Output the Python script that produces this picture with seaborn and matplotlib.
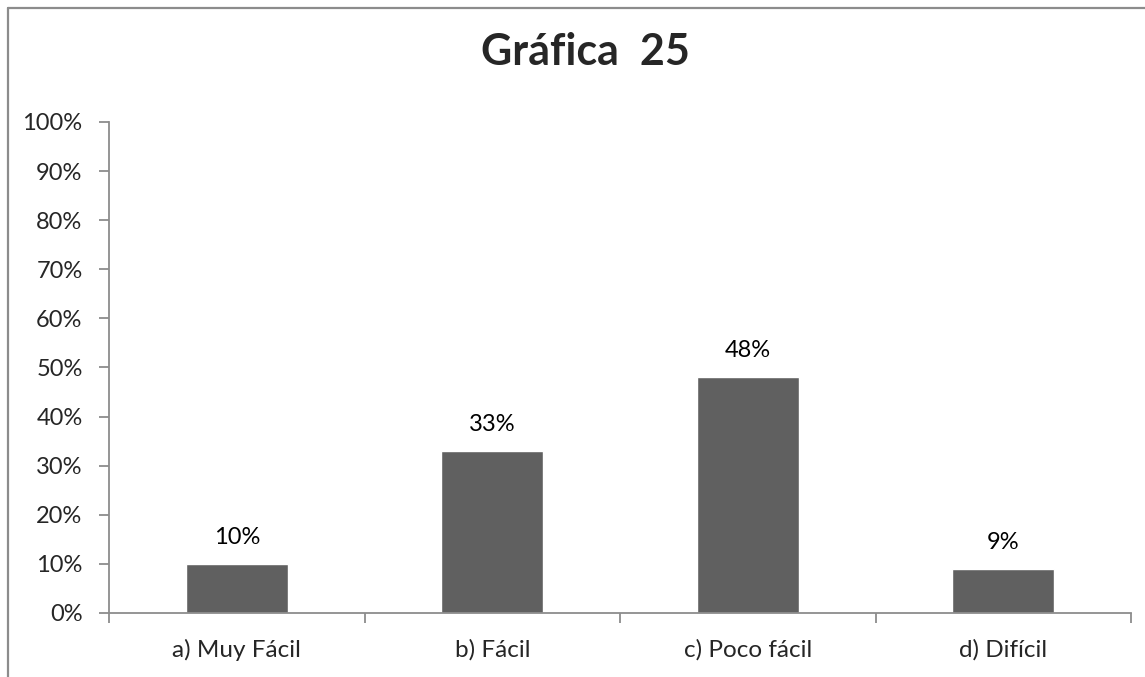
import matplotlib
matplotlib.use("Agg")
import matplotlib.pyplot as plt
from matplotlib.lines import Line2D
from matplotlib.ticker import FixedLocator, FuncFormatter
import pandas as pd
import seaborn as sns

categories = ["a) Muy Fácil", "b) Fácil", "c) Poco fácil", "d) Difícil"]
percentages = [10, 33, 48, 9]
title = "Gráfica  25"

sns.set_style("white")
plt.rcParams["font.family"] = ["Lato", "DejaVu Sans"]

df = pd.DataFrame({"cat": categories, "pct": percentages})

fig = plt.figure(figsize=(11.45, 6.77), dpi=100)
ax = fig.add_axes([0.0952, 0.0946, 0.8926, 0.7252])

sns.barplot(data=df, x="cat", y="pct", order=categories, color="#606060",
            saturation=1, width=0.4, ax=ax)

for i, v in enumerate(percentages):
    ax.text(i, v + 5.4, f"{v}%", ha="center", va="center", fontsize=17, color="black")

ax.set_xlim(-0.5, len(categories) - 0.5)
ax.set_ylim(0, 100)
ax.set_yticks(range(0, 101, 10))
ax.yaxis.set_major_formatter(FuncFormatter(lambda v, p: f"{v:.0f}%"))

# category labels on minor ticks, tick marks between categories
ax.xaxis.set_major_locator(FixedLocator([i - 0.5 for i in range(len(categories) + 1)]))
ax.xaxis.set_minor_locator(FixedLocator(range(len(categories))))
ax.set_xticklabels([""] * (len(categories) + 1))
ax.set_xticklabels(categories, minor=True)
ax.tick_params(axis="x", which="major", length=7, width=1.3, color="#8c8c8c", direction="out")
ax.tick_params(axis="x", which="minor", length=0, pad=19, labelsize=17.5)
ax.tick_params(axis="y", length=7, width=1.3, color="#8c8c8c", direction="out", pad=12, labelsize=17)
ax.tick_params(left=True, bottom=True)
ax.set_xlabel("")
ax.set_ylabel("")

for s in ["top", "right"]:
    ax.spines[s].set_visible(False)
for s in ["left", "bottom"]:
    ax.spines[s].set_color("#8c8c8c")
    ax.spines[s].set_linewidth(1.3)

fig.text(0.511, 0.904, title, ha="center", va="baseline", fontsize=31, fontweight="bold")

# chart area border (cropped at right and bottom in the reference)
fig.add_artist(Line2D([8 / 1145, 1.0], [1 - 8 / 677, 1 - 8 / 677], color="#8c8c8c", lw=1.6))
fig.add_artist(Line2D([8 / 1145, 8 / 1145], [0.0, 1 - 8 / 677], color="#8c8c8c", lw=1.6))

fig.savefig("out.png", dpi=100)
